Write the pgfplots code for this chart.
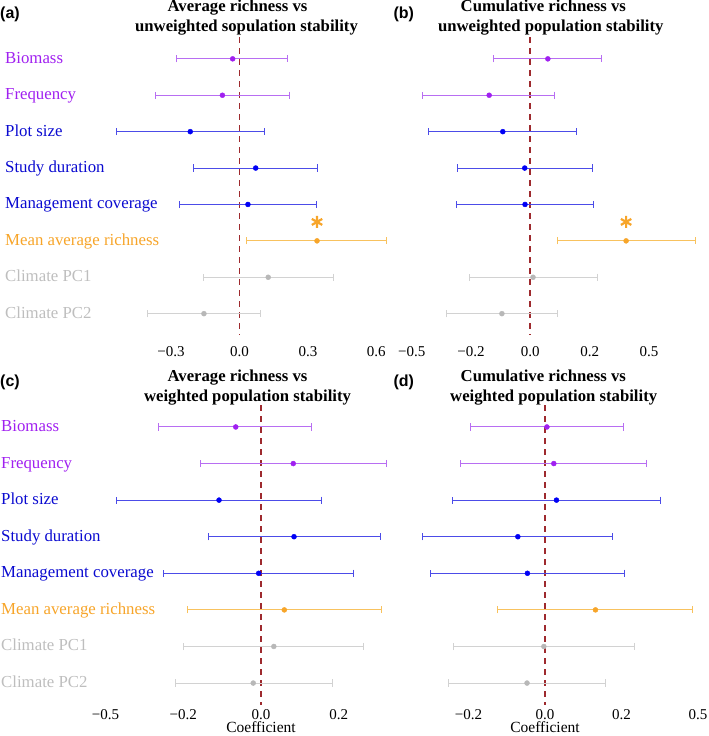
\documentclass[border=0pt]{standalone}
\usepackage{fontspec}
\setmainfont{Liberation Serif}
\newfontfamily\tagfont{Liberation Sans}
\usepackage{pgfplots}
\usepackage{pgfplotstable}
\pgfplotsset{compat=1.18}

% colours of the predictor groups
\definecolor{tpurple}{HTML}{A020F0}
\definecolor{bpurple}{HTML}{B86EF2}
\definecolor{tblue}{HTML}{0A0AD0}
\definecolor{pblue}{HTML}{0000F5}
\definecolor{bblue}{HTML}{4C4CE8}
\definecolor{torange}{HTML}{F7A52A}
\definecolor{borange}{HTML}{F8C25E}
\definecolor{tgrey}{HTML}{BEBEBE}
\definecolor{pgrey}{HTML}{B8B8B8}
\definecolor{bgrey}{HTML}{D2D2D2}
\definecolor{zeroline}{HTML}{9E2A2E}

\newcommand{\titlefont}{\fontsize{16.7}{20}\selectfont\bfseries}
\newcommand{\labfont}{\fontsize{16.8}{20}\selectfont}
\newcommand{\tickfont}{\fontsize{15}{18}\selectfont}

% row: 1 Biomass ... 8 Climate PC2; est, lower and upper limit
\pgfplotstableread{
row est lo hi
1 -0.030 -0.275 0.210
2 -0.075 -0.370 0.220
3 -0.216 -0.540 0.109
4 0.071 -0.200 0.341
5 0.037 -0.261 0.337
6 0.340 0.032 0.645
7 0.126 -0.159 0.411
8 -0.156 -0.404 0.093
}\tabA
\pgfplotstableread{
row est lo hi
1 0.059 -0.124 0.240
2 -0.139 -0.363 0.083
3 -0.093 -0.342 0.155
4 -0.019 -0.246 0.208
5 -0.018 -0.249 0.214
6 0.323 0.092 0.556
7 0.009 -0.206 0.226
8 -0.096 -0.283 0.092
}\tabB
\pgfplotstableread{
row est lo hi
1 -0.065 -0.263 0.130
2 0.083 -0.157 0.324
3 -0.108 -0.371 0.156
4 0.085 -0.135 0.307
5 -0.006 -0.250 0.238
6 0.060 -0.190 0.311
7 0.033 -0.199 0.265
8 -0.020 -0.221 0.184
}\tabC
\pgfplotstableread{
row est lo hi
1 0.005 -0.196 0.206
2 0.023 -0.221 0.266
3 0.030 -0.243 0.301
4 -0.071 -0.320 0.177
5 -0.046 -0.300 0.207
6 0.132 -0.123 0.386
7 -0.003 -0.239 0.233
8 -0.047 -0.253 0.158
}\tabD

% one colour group: table, first row, last row, colour
\newcommand{\bars}[4]{%
  \addplot[draw=none, mark=none, forget plot, restrict y to domain=#2:#3,
    error bars/.cd, x dir=both, x explicit,
    error bar style={line width=1pt, color=#4},
    error mark=|, error mark options={color=#4, line width=1pt, mark size=3.6pt}]
    table[x=est, y=row, x error plus expr=\thisrow{hi}-\thisrow{est},
          x error minus expr=\thisrow{est}-\thisrow{lo}] {#1};
}
\newcommand{\pts}[4]{%
  \addplot[only marks, mark=*, mark size=2.5pt, color=#4, forget plot,
    restrict y to domain=#2:#3] table[x=est, y=row] {#1};
}
\newcommand{\panel}[1]{%
  \bars{#1}{0.5}{2.5}{bpurple}
  \bars{#1}{2.5}{5.5}{bblue}
  \bars{#1}{5.5}{6.5}{borange}
  \bars{#1}{6.5}{8.5}{bgrey}
  \pts{#1}{0.5}{2.5}{tpurple}
  \pts{#1}{2.5}{5.5}{pblue}
  \pts{#1}{5.5}{6.5}{torange}
  \pts{#1}{6.5}{8.5}{pgrey}
}

\pgfplotsset{
  forest/.style={
    scale only axis, anchor=south west,
    ymin=0.4, ymax=8.6, y dir=reverse,
    axis line style={draw=none}, major tick length=0pt,
    clip=false,
    ytick={1,...,8},
    % dashed reference line at zero, spanning the full panel height
    extra x ticks={0}, extra x tick labels={},
    extra x tick style={grid=major,
      major grid style={draw=zeroline, line width=1.8pt, dash pattern=on 6pt off 5pt}},
    xticklabel style={font=\tickfont, anchor=base, inner sep=0pt},
    yticklabel style={font=\labfont, anchor=base west, inner sep=0pt},
  },
  rowlabels/.style={
    yticklabels={\textcolor{tpurple}{Biomass},\textcolor{tpurple}{Frequency},
      \textcolor{tblue}{Plot size},\textcolor{tblue}{Study duration},
      \textcolor{tblue}{Management coverage},\textcolor{torange}{Mean average richness},
      \textcolor{tgrey}{Climate PC1},\textcolor{tgrey}{Climate PC2}},
  },
  nolabels/.style={yticklabels={}},
}

\begin{document}
\begin{tikzpicture}
\path[use as bounding box] (0,0) rectangle (709pt,736pt);

% (a)
\begin{axis}[forest, rowlabels, at={(2.38pt,400.5pt)}, width=396.72pt, height=298.5pt,
  xmin=-1.04, xmax=0.70,
  xtick={-0.3,0,0.3,0.6}, xticklabels={−0.3,0.0,0.3,0.6},
  xticklabel style={yshift=-20.5pt}, yticklabel style={xshift=2.6pt, yshift=-4.5pt}]
  \panel{\tabA}
  \addplot[only marks, mark=asterisk, mark size=6pt, torange, line width=2.2pt, forget plot]
    coordinates {(0.340,5.48)};
\end{axis}

% (b)
\begin{axis}[forest, nolabels, at={(400pt,400.5pt)}, width=309pt, height=298.5pt,
  xmin=-0.4398, xmax=0.6027,
  xtick={-0.4,-0.2,0,0.2,0.4}, xticklabels={−0.5,−0.2,0.0,0.2,0.5},
  xticklabel style={yshift=-20.5pt}]
  \panel{\tabB}
  \addplot[only marks, mark=asterisk, mark size=6pt, torange, line width=2.2pt, forget plot]
    coordinates {(0.323,5.48)};
\end{axis}

% (c)
\begin{axis}[forest, rowlabels, at={(0pt,31pt)}, width=400pt, height=300pt,
  xmin=-0.6718, xmax=0.3578,
  xtick={-0.4,-0.2,0,0.2}, xticklabels={−0.5,−0.2,0.0,0.2},
  xticklabel style={yshift=-14pt}, yticklabel style={xshift=1pt, yshift=-4.5pt}]
  \panel{\tabC}
\end{axis}

% (d)
\begin{axis}[forest, nolabels, at={(400pt,31pt)}, width=309pt, height=300pt,
  xmin=-0.3791, xmax=0.4288,
  xtick={-0.2,0,0.2,0.4}, xticklabels={−0.2,0.0,0.2,0.5},
  xticklabel style={yshift=-14pt}]
  \panel{\tabD}
\end{axis}

% panel titles
\node[anchor=base, font=\titlefont] at (237.5pt,724.3pt) {Average richness vs};
\node[anchor=base, font=\titlefont] at (246.5pt,704.3pt) {unweighted sopulation stability};
\node[anchor=base, font=\titlefont] at (543.3pt,724.3pt) {Cumulative richness vs};
\node[anchor=base, font=\titlefont] at (550.8pt,704.3pt) {unweighted population stability};
\node[anchor=base, font=\titlefont] at (237.5pt,354.3pt) {Average richness vs};
\node[anchor=base, font=\titlefont] at (247.5pt,334.3pt) {weighted population stability};
\node[anchor=base, font=\titlefont] at (543.3pt,354.3pt) {Cumulative richness vs};
\node[anchor=base, font=\titlefont] at (553.7pt,334.3pt) {weighted population stability};

% panel tags
\node[anchor=base west, inner sep=0pt, font=\tagfont\bfseries\fontsize{16}{19}\selectfont] at (0pt,717.7pt) {(a)};
\node[anchor=base west, inner sep=0pt, font=\tagfont\bfseries\fontsize{16}{19}\selectfont] at (393.3pt,717.7pt) {(b)};
\node[anchor=base west, inner sep=0pt, font=\tagfont\bfseries\fontsize{16}{19}\selectfont] at (0pt,349.5pt) {(c)};
\node[anchor=base west, inner sep=0pt, font=\tagfont\bfseries\fontsize{16}{19}\selectfont] at (393.3pt,349.5pt) {(d)};

% x-axis titles
\node[anchor=base, font=\fontsize{15.5}{18}\selectfont] at (261pt,3pt) {Coefficient};
\node[anchor=base, font=\fontsize{15.5}{18}\selectfont] at (545pt,3pt) {Coefficient};
\end{tikzpicture}
\end{document}
